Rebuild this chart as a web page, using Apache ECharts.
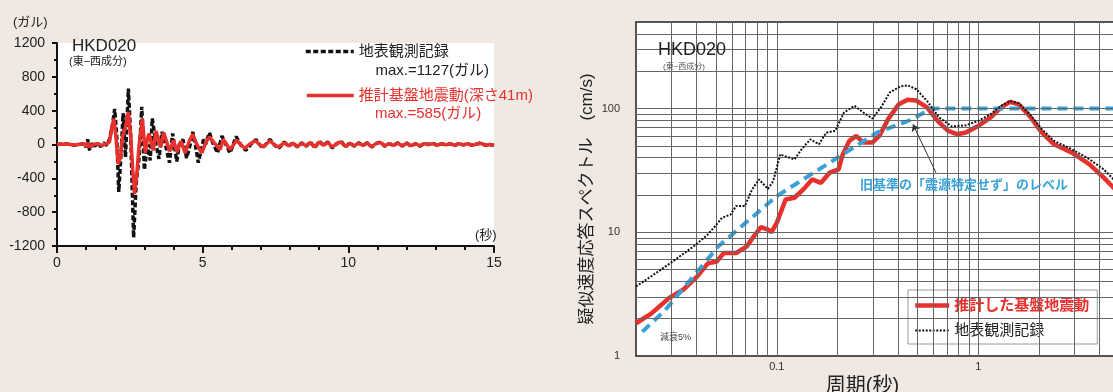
<!DOCTYPE html>
<html>
<head>
<meta charset="utf-8">
<script src="https://cdn.jsdelivr.net/npm/echarts@6/dist/echarts.min.js"></script>
<style>
  html, body { margin: 0; padding: 0; background: #f0e8e2; }
  #main { width: 1113px; height: 392px; }
</style>
</head>
<body>
<div id="main"></div>
<script>
// ---- left: acceleration time history (gal) ----
const obsTime = [0, 0.3, 0.6, 0.9, 1.0, 1.05, 1.12, 1.2, 1.3, 1.4, 1.5, 1.6, 1.7, 1.8, 1.9, 1.98, 2.05, 2.12, 2.2, 2.27, 2.35, 2.45, 2.53, 2.63, 2.72, 2.82, 2.91, 3.0, 3.1, 3.2, 3.27, 3.4, 3.5, 3.6, 3.72, 3.86, 3.97, 4.11, 4.2, 4.32, 4.45, 4.57, 4.66, 4.75, 4.85, 5.03, 5.1, 5.23, 5.35, 5.51, 5.66, 5.8, 5.94, 6.15, 6.3, 6.48, 6.65, 6.83, 6.95, 7.06, 7.31, 7.45, 7.6, 7.8, 7.95, 8.1, 8.25, 8.4, 8.55, 8.7, 8.85, 9.0, 9.15, 9.3, 9.45, 9.6, 9.75, 9.9, 10.05, 10.2, 10.35, 10.5, 10.65, 10.8, 10.95, 11.1, 11.25, 11.4, 11.55, 11.7, 11.85, 12.0, 12.15, 12.3, 12.45, 12.6, 12.75, 12.9, 13.05, 13.2, 13.35, 13.5, 13.65, 13.8, 13.95, 14.1, 14.25, 14.4, 14.55, 14.7, 14.85, 15];
const obsAcc = [0, 10, -10, 10, -30, 60, -70, 10, -20, 20, -25, 20, -10, 60, 220, 420, 100, -560, -100, 370, -150, 660, 100, -1100, -450, -150, 446, -300, 0, -187, 308, 0, -170, 150, 0, -215, 130, -200, 0, 60, -160, 0, 150, 0, -215, 60, 0, 140, 20, -100, 100, 0, -100, 95, 0, -70, 0, 60, 0, -40, 60, 0, -50, 30, -20, 20, -30, 20, -20, 30, -40, 40, -10, 30, -40, 10, 40, -30, 20, -20, 20, -10, 20, -30, 10, 30, -20, 10, -10, 20, -20, 20, -20, 10, -20, 10, 0, 15, -10, 10, -5, 10, -10, 10, -5, 10, -10, 5, 20, -10, 0, -10];
const estTime = [0, 0.3, 0.6, 0.9, 1.0, 1.05, 1.12, 1.25, 1.4, 1.55, 1.7, 1.8, 1.88, 1.95, 2.02, 2.1, 2.18, 2.25, 2.35, 2.45, 2.53, 2.6, 2.66, 2.74, 2.82, 2.93, 3.03, 3.1, 3.16, 3.3, 3.4, 3.48, 3.56, 3.66, 3.75, 3.86, 4.0, 4.12, 4.25, 4.4, 4.55, 4.66, 4.8, 4.97, 5.1, 5.23, 5.4, 5.6, 5.71, 5.94, 6.17, 6.3, 6.45, 6.6, 6.8, 6.95, 7.08, 7.31, 7.45, 7.6, 7.8, 7.95, 8.1, 8.25, 8.4, 8.55, 8.7, 8.85, 9.0, 9.15, 9.3, 9.45, 9.6, 9.75, 9.9, 10.05, 10.2, 10.35, 10.5, 10.65, 10.8, 10.95, 11.1, 11.25, 11.4, 11.55, 11.7, 11.85, 12.0, 12.15, 12.3, 12.45, 12.6, 12.75, 12.9, 13.05, 13.2, 13.35, 13.5, 13.65, 13.8, 13.95, 14.1, 14.25, 14.4, 14.55, 14.7, 14.85, 15];
const estAcc = [0, 5, -5, 10, -20, 20, -30, 0, 10, -10, 10, 30, 200, 305, 100, -230, -150, 100, 200, 385, 100, -300, -585, -350, 0, 305, -100, 60, 130, -70, 160, 60, -30, 140, 50, -80, 50, -90, 40, -100, 50, 120, 0, -100, 20, 90, 20, -60, 60, -60, 50, 0, -45, 0, 45, 0, -30, 45, 0, -30, 20, -15, 15, -25, 15, -15, 25, -30, 30, -10, 25, -30, 10, 30, -25, 15, -15, 15, -10, 15, -25, 10, 25, -15, 10, -10, 15, -15, 15, -15, 10, -15, 10, 0, 10, -10, 10, -5, 10, -10, 10, -5, 10, -10, 5, 15, -10, 0, -10];

// ---- right: pseudo velocity response spectra (cm/s), damping 5% ----
const estPeriod = [0.02, 0.0238, 0.0292, 0.0343, 0.0403, 0.0455, 0.0503, 0.0546, 0.0628, 0.071, 0.077, 0.0834, 0.0904, 0.094, 0.1, 0.1106, 0.1224, 0.1355, 0.1497, 0.1656, 0.183, 0.2027, 0.2113, 0.229, 0.248, 0.269, 0.298, 0.323, 0.357, 0.403, 0.446, 0.493, 0.557, 0.629, 0.709, 0.785, 0.869, 1.0, 1.15, 1.3, 1.44, 1.59, 1.8, 2.07, 2.38, 2.92, 3.57, 4.2, 4.7, 5.0];
const estVel = [1.84, 2.2, 2.94, 3.43, 4.4, 5.6, 5.8, 6.8, 6.8, 7.7, 9.3, 11, 10.5, 10, 11.9, 18.4, 19, 22.2, 26.7, 25.1, 30.3, 32.2, 41.3, 54.7, 60, 53, 53, 60, 82, 108, 117.5, 116, 102, 79.4, 65.9, 62, 63.9, 72.3, 84.5, 102, 113, 108, 87.2, 63.8, 51.4, 44, 35.4, 27.6, 22.9, 20.7];
const obsPeriod = [0.02, 0.0238, 0.0304, 0.0387, 0.0455, 0.0494, 0.0535, 0.059, 0.0628, 0.0695, 0.0754, 0.0817, 0.0904, 0.096, 0.104, 0.1106, 0.1224, 0.1327, 0.1468, 0.162, 0.176, 0.195, 0.2155, 0.243, 0.269, 0.298, 0.329, 0.364, 0.41, 0.446, 0.493, 0.557, 0.64, 0.74, 0.869, 1.0, 1.15, 1.3, 1.44, 1.59, 1.8, 2.07, 2.38, 2.92, 3.57, 4.2, 4.7, 5.0];
const obsVel = [3.65, 4.4, 5.8, 7.7, 9.6, 11.2, 13.1, 13.9, 16.3, 16.3, 22.2, 26.7, 22.4, 25.9, 42.6, 41, 38.8, 46.8, 56.4, 51.4, 63.8, 65.9, 92.8, 105, 92.8, 83, 102, 135, 151, 154, 143, 115, 84.5, 71.5, 73.2, 79.4, 89.9, 105, 115, 110, 89.9, 68, 54.7, 46.8, 38.8, 32.2, 26.7, 24.5];
const oldPeriod = [0.0215, 0.028, 0.0513, 0.1, 0.2, 0.316, 0.473, 0.58, 5.0];
const oldVel = [1.57, 2.36, 7.7, 19.6, 40, 64, 82, 100, 100];

// log grid line values (1..9 per decade)
const xGridVals = [];
[0.01, 0.1, 1].forEach((d) => {
  for (let k = 1; k <= 9; k++) {
    const v = +(d * k).toFixed(4);
    if (v > 0.02 && v < 5) xGridVals.push(v);
  }
});
const yGridVals = [];
[1, 10, 100].forEach((d) => {
  for (let k = 1; k <= 9; k++) {
    const v = d * k;
    if (v > 1 && v < 500) yGridVals.push(v);
  }
});

const zip = (xs, ys) => xs.map((x, i) => [x, ys[i]]);
const FONT = '"Liberation Sans", "Noto Sans CJK JP", sans-serif';
const RED = "#e8302c";
const BLUE = "#39a3d9";
// hide the symbol that the legend draws on line icons
const noSymbol = { opacity: 0, color: "transparent", borderWidth: 0 };

const chart = echarts.init(document.getElementById("main"));

chart.setOption({
  animation: false,
  backgroundColor: "#f0e8e2",
  textStyle: { fontFamily: FONT },
  grid: [
    { left: 57, top: 43, right: 619, bottom: 146, show: true, borderWidth: 0, backgroundColor: "#fff", outerBoundsMode: "none" },
    { left: 636, top: 22, width: 483, height: 334, show: true, borderColor: "#222", borderWidth: 1.5, backgroundColor: "#fff", outerBoundsMode: "none" },
  ],
  xAxis: [
    {
      gridIndex: 0, type: "value", min: 0, max: 15, interval: 5,
      axisLine: { onZero: false, lineStyle: { color: "#111", width: 2 } },
      axisTick: { length: 7, lineStyle: { color: "#111", width: 2 } },
      minorTick: { show: true, splitNumber: 5, length: 4, lineStyle: { color: "#111", width: 2 } },
      splitLine: { show: false },
      axisLabel: { fontSize: 14, color: "#222", margin: 10, fontFamily: FONT },
    },
    {
      gridIndex: 1, type: "log", logBase: 10, min: 0.02, max: 5,
      axisLine: { show: false }, axisTick: { show: false }, splitLine: { show: false },
      axisLabel: {
        fontSize: 11, color: "#333", margin: 5, fontFamily: FONT,
        formatter: (v) => (Math.abs(v - 0.1) < 1e-6 ? "0.1" : Math.abs(v - 1) < 1e-6 ? "1" : ""),
      },
      name: "周期(秒)", nameLocation: "middle", nameGap: 16,
      nameTextStyle: { fontSize: 20, color: "#222", padding: [0, 30, 0, 0], fontFamily: FONT },
    },
  ],
  yAxis: [
    {
      gridIndex: 0, type: "value", min: -1200, max: 1200, interval: 400,
      axisLine: { show: true, lineStyle: { color: "#111", width: 2 } },
      axisTick: { show: true, length: 5, lineStyle: { color: "#111", width: 2 } },
      minorTick: { show: true, splitNumber: 2, length: 3, lineStyle: { color: "#111", width: 2 } },
      splitLine: { show: false },
      axisLabel: { fontSize: 14, color: "#222", margin: 12, fontFamily: FONT, formatter: (v) => String(v) },
    },
    {
      gridIndex: 1, type: "log", logBase: 10, min: 1, max: 500,
      axisLine: { show: false }, axisTick: { show: false }, splitLine: { show: false },
      axisLabel: {
        fontSize: 11, color: "#333", margin: 16, fontFamily: FONT,
        formatter: (v) => ([1, 10, 100].some((d) => Math.abs(v - d) < 1e-6) ? String(Math.round(v)) : ""),
      },
      name: "疑似速度応答スペクトル　(cm/s)", nameLocation: "middle", nameRotate: 90, nameGap: 40,
      nameTextStyle: { fontSize: 17, color: "#222", padding: [0, 20, 0, 0], fontFamily: FONT },
    },
  ],
  legend: [
    {
      data: [{ name: "地表観測記録", lineStyle: { width: 3.5 } }],
      left: 304, top: 44, padding: 0, itemWidth: 48, itemHeight: 14,
      itemStyle: noSymbol,
      textStyle: { fontSize: 15, color: "#222", fontFamily: FONT }, selectedMode: false,
    },
    {
      data: [{ name: "推計基盤地震動(深さ41m)", textStyle: { color: RED }, lineStyle: { width: 3.5 } }],
      left: 305, top: 88, padding: 0, itemWidth: 47, itemHeight: 14,
      itemStyle: noSymbol,
      textStyle: { fontSize: 15, fontFamily: FONT }, selectedMode: false,
    },
    {
      data: [
        { name: "推計した基盤地震動", textStyle: { color: RED, fontWeight: "bold" }, lineStyle: { width: 4.5 } },
        { name: "地表観測記録 ", textStyle: { color: "#222" } },
      ],
      orient: "vertical", left: 908, top: 290, itemWidth: 34, itemHeight: 12, itemGap: 10,
      itemStyle: noSymbol,
      padding: [8, 8, 6, 5], backgroundColor: "#fff", borderColor: "#999", borderWidth: 1, borderRadius: 0,
      textStyle: { fontSize: 15, fontFamily: FONT }, selectedMode: false,
    },
  ],
  series: [
    {
      name: "地表観測記録", type: "line", xAxisIndex: 0, yAxisIndex: 0, symbol: "none",
      data: zip(obsTime, obsAcc),
      lineStyle: { color: "#111", width: 3.5, type: [5, 2.5] }, itemStyle: { color: "#111" }, z: 2,
    },
    {
      name: "推計基盤地震動(深さ41m)", type: "line", xAxisIndex: 0, yAxisIndex: 0, symbol: "none",
      data: zip(estTime, estAcc),
      lineStyle: { color: RED, width: 3.5 }, itemStyle: { color: RED }, z: 3,
    },
    {
      name: "grid", type: "line", xAxisIndex: 1, yAxisIndex: 1, symbol: "none", data: [], z: 1, silent: true,
      markLine: {
        silent: true, symbol: ["none", "none"], label: { show: false },
        lineStyle: { color: "#666", width: 1, type: "solid" },
        data: xGridVals.map((v) => ({ xAxis: v })).concat(yGridVals.map((v) => ({ yAxis: v }))),
      },
    },
    {
      name: "推計した基盤地震動", type: "line", xAxisIndex: 1, yAxisIndex: 1, symbol: "none",
      data: zip(estPeriod, estVel),
      lineStyle: { color: RED, width: 4.5 }, itemStyle: { color: RED }, z: 3,
    },
    {
      name: "旧基準", type: "line", xAxisIndex: 1, yAxisIndex: 1, symbol: "none",
      data: zip(oldPeriod, oldVel),
      lineStyle: { color: BLUE, width: 4, type: [10, 6] }, itemStyle: { color: BLUE }, z: 4,
      markLine: {
        silent: true, symbol: ["none", "arrow"], symbolSize: 7, label: { show: false },
        lineStyle: { color: "#333", width: 1, type: "solid" },
        data: [[{ coord: [0.617, 30.3] }, { coord: [0.474, 74.6] }]],
      },
    },
    {
      name: "地表観測記録 ", type: "line", xAxisIndex: 1, yAxisIndex: 1, symbol: "none",
      data: zip(obsPeriod, obsVel),
      lineStyle: { color: "#111", width: 2, type: [2, 1.5] }, itemStyle: { color: "#111" }, z: 5,
    },
  ],
  graphic: [
    { type: "text", x: 13, y: 22, style: { text: "(ガル)", font: "13px " + FONT, fill: "#222", textVerticalAlign: "middle" } },
    { type: "text", x: 72, y: 46, style: { text: "HKD020", font: "17px " + FONT, fill: "#222", textVerticalAlign: "middle" } },
    { type: "text", x: 69, y: 62, style: { text: "(東−西成分)", font: "11px " + FONT, fill: "#222", textVerticalAlign: "middle" } },
    { type: "text", x: 489, y: 71, style: { text: "max.=1127(ガル)", font: "15px " + FONT, fill: "#222", textAlign: "right", textVerticalAlign: "middle" } },
    { type: "text", x: 375, y: 114, style: { text: "max.=585(ガル)", font: "15px " + FONT, fill: RED, textVerticalAlign: "middle" } },
    { type: "text", x: 475, y: 235, style: { text: "(秒)", font: "13px " + FONT, fill: "#222", textVerticalAlign: "middle" } },
    { type: "text", x: 658, y: 50, z: 10, style: { text: "HKD020", font: "18px " + FONT, fill: "#222", textVerticalAlign: "middle" } },
    { type: "text", x: 663, y: 67, z: 10, style: { text: "(東−西成分)", font: "8px " + FONT, fill: "#555", textVerticalAlign: "middle" } },
    { type: "text", x: 660, y: 338, z: 10, style: { text: "減衰5%", font: "9px " + FONT, fill: "#444", textVerticalAlign: "middle" } },
    { type: "text", x: 860, y: 185, z: 10, style: { text: "旧基準の「震源特定せず」のレベル", font: "bold 13px " + FONT, fill: BLUE, textVerticalAlign: "middle" } },
  ],
});
</script>
</body>
</html>
